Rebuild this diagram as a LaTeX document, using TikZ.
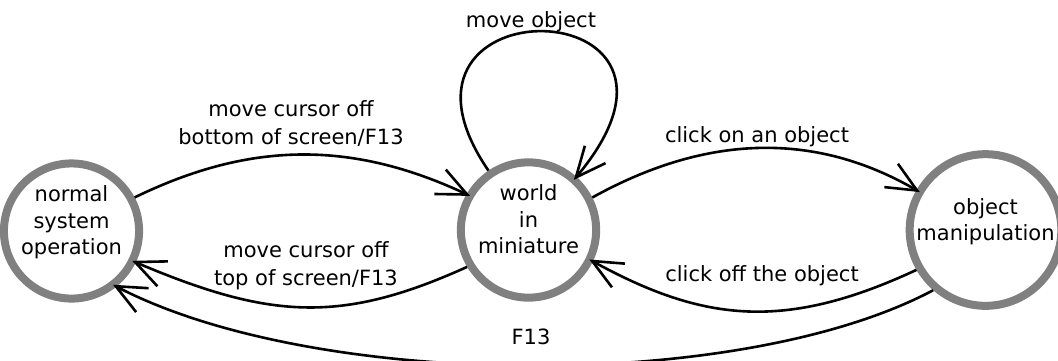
\documentclass[tikz,border=0pt]{standalone}
\usepackage{fontspec}
\setmainfont{DejaVu Sans}
\usetikzlibrary{arrows.meta}
\definecolor{ringgray}{RGB}{128,128,128}
\newcommand{\mystatefont}{\fontsize{21}{26.5}\selectfont}
\newcommand{\mylblfont}{\fontsize{21}{28}\selectfont}
\begin{document}
\begin{tikzpicture}[x=1pt,y=-1pt,
  state/.style={circle, draw=ringgray, line width=8pt, minimum size=124pt,
    inner sep=0pt, align=center, text depth=21pt, font=\mystatefont},
  trans/.style={line width=2.6pt, draw=black, shorten >=-4pt,
    -{Straight Barb[length=30pt,width=27pt]}},
  lbl/.style={align=center, font=\mylblfont, inner sep=0pt}]
\useasboundingbox (0,0) rectangle (1058,360);

\node[state] (n) at (71.5,231) {normal\\system\\operation};
\node[state] (w) at (528.5,230) {world\\in\\miniature};
\node[state] (o) at (985.5,230) {object\\manipulation};

\draw[trans] (n.28) .. controls +(113,-55) and +(-117,-55) .. (w.150);
\draw[trans] (w.211) .. controls +(-126,57) and +(134,57) .. (n.334);
\draw[trans] (w.27) .. controls +(110,-61) and +(-105,-61) .. (o.150);
\draw[trans] (o.210) .. controls +(-131,61) and +(111,61) .. (w.334);
\draw[trans] (o.229) .. controls +(-194,103) and +(197,103) .. (n.309);
\draw[trans] (w.124) .. controls +(-130,-190) and +(160,-190) .. (w.48);

\node[lbl] (l1) at (291,123) {move cursor off\\bottom of screen/F13};
\node[lbl] (l2) at (306,266) {move cursor off\\top of screen/F13};
\node[lbl] (l3) at (757,136.5) {click on an object};
\node[lbl] (l4) at (762,275.5) {click off the object};
\node[lbl] (l5) at (531,337) {F13};
\node[lbl] (l6) at (531,21.5) {move object};
\end{tikzpicture}
\end{document}
